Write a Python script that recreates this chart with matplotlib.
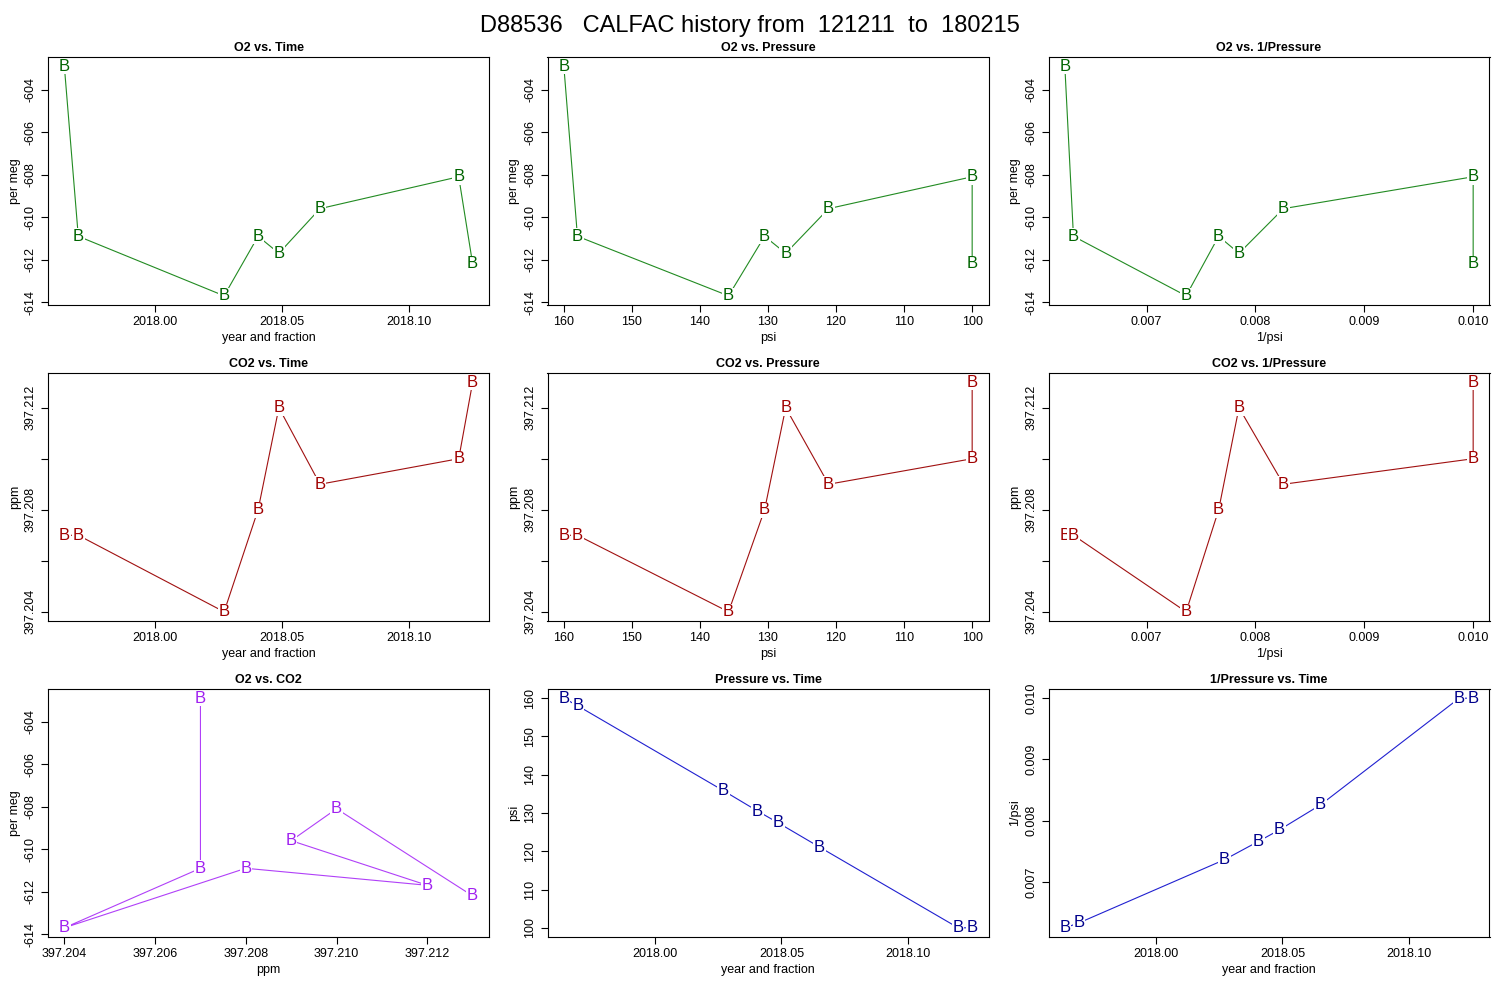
import matplotlib
matplotlib.use("Agg")
import matplotlib.pyplot as plt
import numpy as np

time = [2017.9642, 2017.9697, 2018.0272, 2018.0406, 2018.0488, 2018.0650, 2018.1197, 2018.1252]
o2 = [-602.9, -610.9, -613.7, -610.9, -611.7, -609.6, -608.1, -612.2]
co2 = [397.2070, 397.2070, 397.2040, 397.2080, 397.2120, 397.2090, 397.2100, 397.2130]
psi = [160.0, 158.0, 135.8, 130.5, 127.4, 121.1, 100.0, 100.0]
inv_psi = [1.0 / p for p in psi]

plt.rcParams['font.family'] = ['Liberation Sans', 'DejaVu Sans']
fig = plt.figure(figsize=(15, 10), dpi=100)
fig.text(0.5, 0.985, "D88536   CALFAC history from  121211  to  180215", ha='center', va='top', fontsize=17)

cols = [0.032, 0.365, 0.699]
rows = [0.695, 0.379, 0.063]
W, H = 0.294, 0.248

def rng(v):
    lo, hi = min(v), max(v)
    d = (hi - lo) * 0.04
    return lo - d, hi + d

def panel(r, c, x, y, title, xlab, ylab, mcol, lcol, xticks, xfmt, yticks, yshow, xrev=False):
    ax = fig.add_axes([cols[c], rows[r], W, H])
    ax.plot(x, y, color=lcol, lw=0.8, zorder=1)
    for xi, yi in zip(x, y):
        ax.text(xi, yi, "B", color=mcol, fontsize=12, ha='center', va='center', zorder=2,
                bbox=dict(facecolor='white', edgecolor='none', pad=0.5))
    xl = rng(x)
    ax.set_xlim(xl[::-1] if xrev else xl)
    ax.set_ylim(rng(y))
    ax.set_xticks(xticks)
    ax.set_xticklabels([xfmt(t) for t in xticks], fontsize=9)
    ax.set_yticks(yticks)
    ax.set_yticklabels([yshow(t) for t in yticks], fontsize=9, rotation=90, va='center')
    ax.set_title(title, fontsize=9, fontweight='bold', pad=4)
    ax.set_xlabel(xlab, fontsize=9, labelpad=3)
    ax.set_ylabel(ylab, fontsize=9, labelpad=3)
    ax.tick_params(length=5, width=0.8, pad=3)
    for s in ax.spines.values():
        s.set_linewidth(0.8)
    return ax

tfmt = lambda t: f"{t:.2f}"
tt = [2018.00, 2018.05, 2018.10]
o2t = [-614, -612, -610, -608, -606, -604]
o2s = lambda t: f"{t:d}"
co2t = [397.204, 397.206, 397.208, 397.210, 397.212]
co2s = lambda t: f"{t:.3f}" if round((t - 397.204) / 0.002) % 2 == 0 else ""
pt = [160, 150, 140, 130, 120, 110, 100]
pfmt = lambda t: f"{t:d}"
it = [0.007, 0.008, 0.009, 0.010]
ifmt = lambda t: f"{t:.3f}"

G, GL = '#006400', '#228B22'
R, RL = '#a00000', '#a01010'
P, PL = '#a020f0', '#b040f8'
B, BL = '#00008b', '#2020d0'

panel(0, 0, time, o2, "O2 vs. Time", "year and fraction", "per meg", G, GL, tt, tfmt, o2t, o2s)
panel(0, 1, psi, o2, "O2 vs. Pressure", "psi", "per meg", G, GL, pt, pfmt, o2t, o2s, xrev=True)
panel(0, 2, inv_psi, o2, "O2 vs. 1/Pressure", "1/psi", "per meg", G, GL, it, ifmt, o2t, o2s)
panel(1, 0, time, co2, "CO2 vs. Time", "year and fraction", "ppm", R, RL, tt, tfmt, co2t, co2s)
panel(1, 1, psi, co2, "CO2 vs. Pressure", "psi", "ppm", R, RL, pt, pfmt, co2t, co2s, xrev=True)
panel(1, 2, inv_psi, co2, "CO2 vs. 1/Pressure", "1/psi", "ppm", R, RL, it, ifmt, co2t, co2s)
panel(2, 0, co2, o2, "O2 vs. CO2", "ppm", "per meg", P, PL, [397.204, 397.206, 397.208, 397.210, 397.212],
      lambda t: f"{t:.3f}", o2t, o2s)
panel(2, 1, time, psi, "Pressure vs. Time", "year and fraction", "psi", B, BL, tt, tfmt,
      [100, 110, 120, 130, 140, 150, 160], lambda t: f"{t:d}")
panel(2, 2, time, inv_psi, "1/Pressure vs. Time", "year and fraction", "1/psi", B, BL, tt, tfmt,
      [0.007, 0.008, 0.009, 0.010], lambda t: f"{t:.3f}")

fig.savefig("out.png", dpi=100)
